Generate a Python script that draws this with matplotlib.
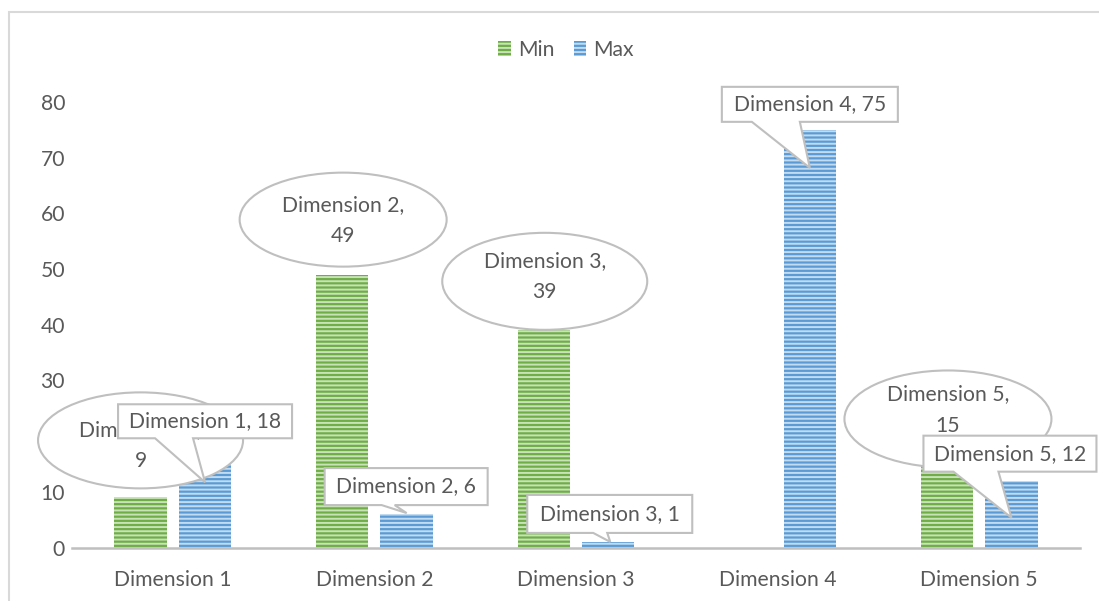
import numpy as np
import matplotlib
matplotlib.use("Agg")
import matplotlib.pyplot as plt
from matplotlib.patches import Ellipse, Polygon, Rectangle
from matplotlib.transforms import ScaledTranslation

plt.rcParams['font.family'] = ['Lato', 'DejaVu Sans']
plt.rcParams['hatch.linewidth'] = 1.4

categories = ["Dimension 1", "Dimension 2", "Dimension 3", "Dimension 4", "Dimension 5"]
min_values = [9, 49, 39, None, 15]
max_values = [18, 6, 1, 75, 12]
y_ticks = [0, 10, 20, 30, 40, 50, 60, 70, 80]

TEXT = '#595959'
GREEN, GREEN_LT = '#70AD47', '#C9E3B9'
BLUE, BLUE_LT = '#5B9BD5', '#C2DBF1'
OUTLINE = '#BFBFBF'
DPI = 100
FS = 15.2

fig = plt.figure(figsize=(10.99, 6.01), dpi=DPI)
ax = fig.add_axes([72 / 1099, 53.5 / 601, 1008 / 1099, 445.5 / 601])

x = np.arange(len(categories))
w, off = 0.26, 0.16
min_arr = np.array([np.nan if v is None else v for v in min_values], dtype=float)
max_arr = np.array(max_values, dtype=float)

ax.bar(x - off, min_arr, w, color=GREEN, edgecolor=GREEN_LT, linewidth=0,
       hatch='----', label='Min', zorder=2)
ax.bar(x + off, max_arr, w, color=BLUE, edgecolor=BLUE_LT, linewidth=0,
       hatch='----', label='Max', zorder=2)

ax.set_xlim(-0.5, len(categories) - 0.5)
ax.set_ylim(0, 80)
ax.set_yticks(y_ticks)
ax.set_xticks(x)
ax.set_xticklabels(categories)
for s in ['top', 'right', 'left']:
    ax.spines[s].set_visible(False)
ax.spines['bottom'].set_color(OUTLINE)
ax.spines['bottom'].set_linewidth(1.8)
ax.spines['bottom'].set_zorder(3)
ax.tick_params(axis='both', length=0, labelsize=FS, labelcolor=TEXT)
ax.tick_params(axis='y', pad=5)
ax.tick_params(axis='x', pad=16)

leg = fig.legend(loc='center', bbox_to_anchor=(566 / 1099, 1 - 50 / 601), ncol=2,
                 frameon=False, fontsize=FS, handlelength=0.6, handleheight=0.75,
                 handletextpad=0.35, columnspacing=0.9)
for t in leg.get_texts():
    t.set_color(TEXT)


def anchor_trans(xv, yv):
    # offsets in pixels (converted to inches) around a data point
    return fig.dpi_scale_trans + ScaledTranslation(xv, yv, ax.transData)


# oval callouts for Min: (center dx, dy, width, height, text dy) in pixels
min_ovals = [(0, 57, 205, 96, 52), (1, 55, 207, 94, 54), (1, 49, 205, 97, 54),
             None, (1, 45, 207, 97, 54)]
for i, v in enumerate(min_values):
    if v is None:
        continue
    dx, dy, ew, eh, ty = min_ovals[i]
    tr = anchor_trans(x[i] - off, v)
    ax.add_patch(Ellipse((dx / DPI, dy / DPI), ew / DPI, eh / DPI, transform=tr,
                         facecolor='white', edgecolor=OUTLINE, lw=1.5,
                         clip_on=False, zorder=4))
    ax.text(dx / DPI, ty / DPI, f"{categories[i]},\n{v}", transform=tr,
            ha='center', va='center', fontsize=FS, color=TEXT,
            linespacing=1.7, clip_on=False, zorder=4)

# rectangle callouts for Max: rect (x0, x1, y0, y1), wedge base (b0, b1), tip (tx, ty)
max_boxes = [
    ((-87, 87, 9, 43), (-50, -12), (0, -35)),
    ((-82, 81, 9, 46), (-25, -12), (0, 1)),
    ((-81, 84, 9, 47), (-15, -1), (2, 0)),
    ((-88, 88, 8, 43), (-58, -10), (0, -38)),
    ((-88, 85, 9, 45), (-58, -13), (0, -37)),
]
for i, v in enumerate(max_values):
    (x0, x1, y0, y1), (b0, b1), (tx, ty) = max_boxes[i]
    tr = anchor_trans(x[i] + off, v)
    pts = [(x0, y0), (b0, y0), (tx, ty), (b1, y0), (x1, y0), (x1, y1), (x0, y1)]
    ax.add_patch(Polygon(np.array(pts) / DPI, closed=True, transform=tr,
                         facecolor='white', edgecolor=OUTLINE, lw=1.5,
                         clip_on=False, zorder=5))
    ax.text((x0 + x1) / 2 / DPI, (y0 + y1) / 2 / DPI, f"{categories[i]}, {v}",
            transform=tr, ha='center', va='center', fontsize=FS, color=TEXT,
            clip_on=False, zorder=5)

# chart area border (cropped at right and bottom)
fig.add_artist(Rectangle((9 / 1099, -0.1), 1.2, (601 - 12) / 601 + 0.1,
                         transform=fig.transFigure, fill=False,
                         edgecolor='#D9D9D9', lw=1.5))

fig.savefig('out.png', dpi=DPI)
